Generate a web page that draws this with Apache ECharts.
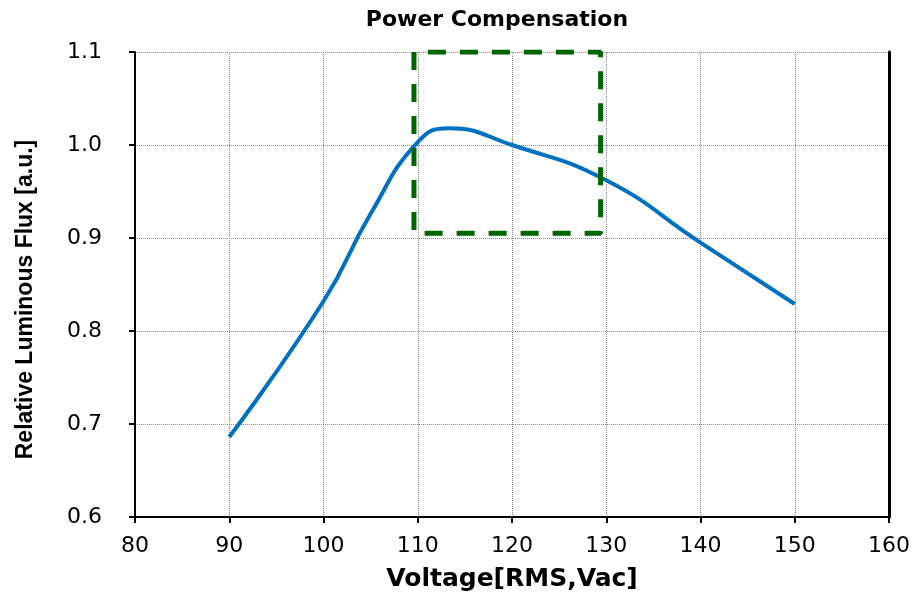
<!DOCTYPE html>
<html><head><meta charset="utf-8">
<script src="https://cdn.jsdelivr.net/npm/echarts@6/dist/echarts.min.js"></script>
<style>html,body{margin:0;padding:0;background:#fff}#c{width:916px;height:600px}</style>
</head><body><div id="c"></div>
<script>
const voltage = [90, 100, 105, 110, 113.3, 120, 130, 140, 150];
const flux = [0.686, 0.832, 0.926, 1.003, 1.018, 1.000, 0.962, 0.895, 0.829];
const boxX = [109.6, 109.6, 129.4, 129.4, 109.6];
const boxY = [1.1, 0.905, 0.905, 1.1, 1.1];
const xTicks = [80, 90, 100, 110, 120, 130, 140, 150, 160];
const yTicks = [0.6, 0.7, 0.8, 0.9, 1.0, 1.1];

const wide = '"DejaVu Sans", Verdana, sans-serif';
const arial = '"Liberation Sans", Arial, sans-serif';
const chart = echarts.init(document.getElementById('c'), null, {renderer: 'canvas'});
chart.setOption({
  animation: false,
  title: {text: 'Power Compensation', left: 492, top: 4, textAlign: 'center',
    textStyle: {fontFamily: wide, fontWeight: 'bold', fontSize: 22, color: '#000'}},
  grid: {left: 135, right: 27, top: 52, bottom: 83},
  xAxis: {type: 'value', min: xTicks[0], max: xTicks[xTicks.length-1], interval: 10,
    name: 'Voltage[RMS,Vac]', nameLocation: 'middle', nameGap: 50,
    nameTextStyle: {fontFamily: wide, fontWeight: 'bold', fontSize: 25, color: '#000'},
    axisLine: {lineStyle: {color: '#000', width: 2}},
    axisTick: {show: true, length: 6, lineStyle: {color: '#000', width: 2}},
    axisLabel: {fontFamily: wide, fontSize: 22, color: '#000', margin: 18},
    splitLine: {show: true, lineStyle: {color: '#888', type: 'dotted', width: 1}}},
  yAxis: [{type: 'value', min: yTicks[0], max: yTicks[yTicks.length-1], interval: 0.1,
    name: 'Relative Luminous Flux [a.u.]', nameLocation: 'middle', nameGap: 98,
    nameTextStyle: {fontFamily: arial, fontWeight: 'bold', fontSize: 23, color: '#000',
      padding: [0, 30, 0, 0]},
    axisLine: {show: true, lineStyle: {color: '#000', width: 2}},
    axisTick: {show: true, length: 6, lineStyle: {color: '#000', width: 2}},
    axisLabel: {fontFamily: wide, fontSize: 22, color: '#000', margin: 33,
      formatter: v => v.toFixed(1)},
    splitLine: {show: true, lineStyle: {color: '#888', type: 'dotted', width: 1}}},
   {type: 'value', position: 'right', min: yTicks[0], max: yTicks[yTicks.length-1],
    axisLine: {show: true, lineStyle: {color: '#000', width: 3}},
    axisTick: {show: false}, axisLabel: {show: false}, splitLine: {show: false}}],
  series: [
    {type: 'line', data: voltage.map((v, i) => [v, flux[i]]), smooth: 0.5,
      showSymbol: false, lineStyle: {color: '#0070c0', width: 4}, z: 3},
    {type: 'line', data: boxX.map((v, i) => [v, boxY[i]]), smooth: false,
      showSymbol: false, lineStyle: {color: '#006400', width: 5, type: [18, 14]}, z: 4}
  ]
});
</script></body></html>
